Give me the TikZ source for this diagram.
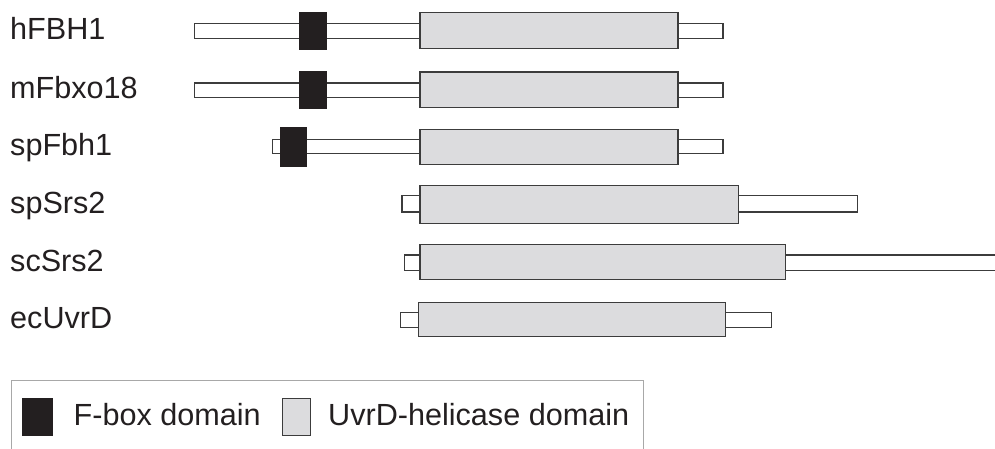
\documentclass[tikz,border=0pt]{standalone}
\usepackage{fontspec}
\setmainfont{Liberation Sans}
\definecolor{inkgray}{HTML}{3C3C3C}
\definecolor{helgray}{HTML}{DCDCDE}
\definecolor{fboxblack}{HTML}{231F20}
\definecolor{framegray}{HTML}{A8A8A8}
\tikzset{
  linker/.style={draw=inkgray,line width=1.4pt,fill=white},
  helicase/.style={draw=inkgray,line width=1.4pt,fill=helgray},
  fboxdom/.style={draw=fboxblack,line width=0.8pt,fill=fboxblack},
  protname/.style={anchor=base west,inner sep=0pt,text=fboxblack,font=\fontsize{30.6}{36}\selectfont},
}
\begin{document}
\begin{tikzpicture}[x=1pt,y=-1pt]
  \useasboundingbox (0,0) rectangle (995,448);
  % hFBH1
  \node[protname] (hfbh) at (10,39.4) {hFBH1};
  \draw[linker] (194.7,23.4) rectangle (723,38.3);
  \draw[fboxdom] (299.2,12.2) rectangle (326.2,49.5);
  \draw[helicase] (420,12.7) rectangle (678,48.6);
  % mFbxo18
  \node[protname] (mfbx) at (10,98.7) {mFbxo18};
  \draw[linker] (194.7,83) rectangle (723,97.6);
  \draw[fboxdom] (299.2,71.8) rectangle (326.2,108.5);
  \draw[helicase] (420,72) rectangle (678,107.6);
  % spFbh1
  \node[protname] (spfb) at (10,155.7) {spFbh1};
  \draw[linker] (272.7,139.2) rectangle (723,153.6);
  \draw[fboxdom] (280.2,127.8) rectangle (306.8,166.2);
  \draw[helicase] (420,129.4) rectangle (678,164.3);
  % spSrs2
  \node[protname] (spsr) at (10,213.2) {spSrs2};
  \draw[linker] (402,195.4) rectangle (857.3,212);
  \draw[helicase] (420,185.4) rectangle (738.3,223.6);
  % scSrs2
  \node[protname] (scsr) at (10,271.3) {scSrs2};
  \draw[linker] (404.4,255) rectangle (999,270.3);
  \draw[helicase] (420,244.7) rectangle (785.6,279.6);
  % ecUvrD
  \node[protname] (ecuv) at (10,328.3) {ecUvrD};
  \draw[linker] (400.7,312.7) rectangle (771.3,327.3);
  \draw[helicase] (418.7,302.4) rectangle (725.3,336.6);
  % legend
  \draw[framegray,line width=1pt] (11.5,380.5) rectangle (643.2,470);
  \draw[fboxdom] (22.4,398.1) rectangle (51.9,435.6);
  \node[protname] (fboxkey) at (73.5,425) {F-box domain};
  \draw[helicase,line width=1pt] (282.8,398.2) rectangle (310.5,435.5);
  \node[protname] (uvrdkey) at (328,425) {UvrD-helicase domain};
\end{tikzpicture}
\end{document}
